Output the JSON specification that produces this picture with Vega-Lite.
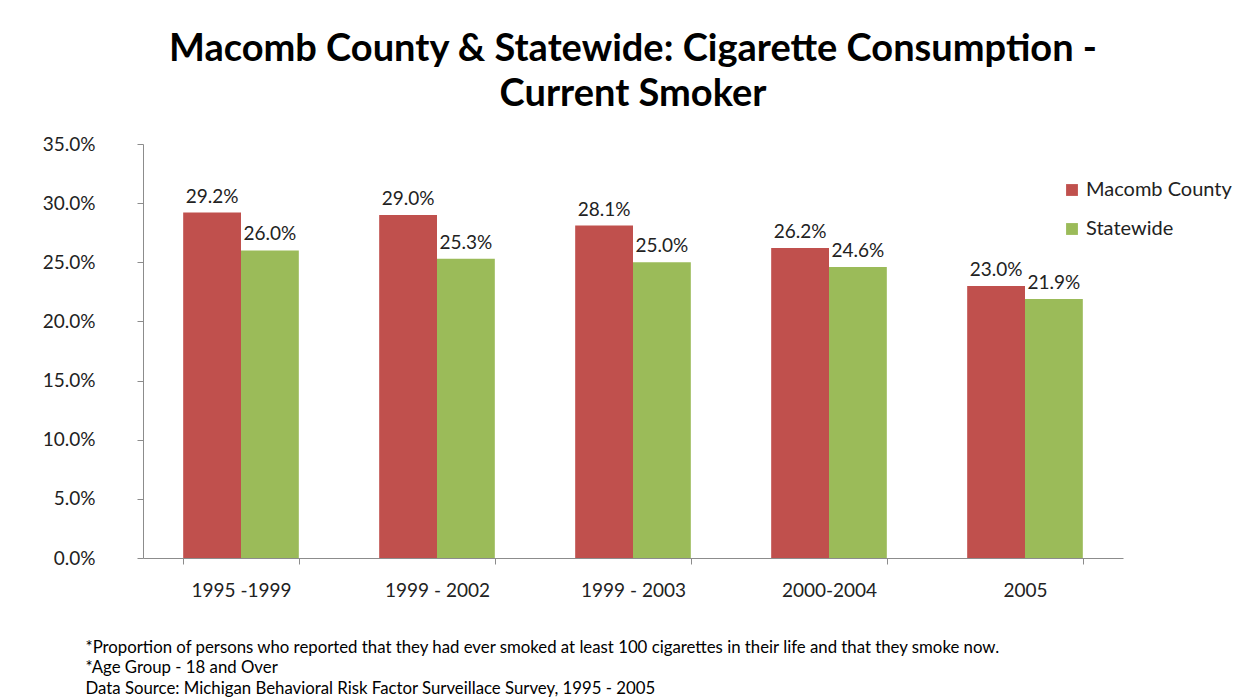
{
  "$schema": "https://vega.github.io/schema/vega-lite/v6.json",
  "autosize": "none",
  "width": 980,
  "height": 414,
  "padding": {"left": 143, "top": 144, "right": 121, "bottom": 142},
  "background": "white",
  "config": {
    "view": {"stroke": null},
    "font": "Lato",
    "axis": {"labelFont": "Lato", "titleFont": "Lato", "domainColor": "#8c8c8c", "tickColor": "#8c8c8c", "grid": false}
  },
  "title": {
    "text": ["Macomb County & Statewide: Cigarette Consumption -", "Current Smoker"],
    "font": "Lato",
    "fontSize": 38,
    "fontWeight": "bold",
    "color": "#000000",
    "anchor": "middle",
    "frame": "group",
    "lineHeight": 45,
    "offset": 21
  },
  "data": {
    "values": [
      {"period": "1995 -1999", "series": "Macomb County", "value": 0.292},
      {"period": "1995 -1999", "series": "Statewide", "value": 0.260},
      {"period": "1999 - 2002", "series": "Macomb County", "value": 0.290},
      {"period": "1999 - 2002", "series": "Statewide", "value": 0.253},
      {"period": "1999 - 2003", "series": "Macomb County", "value": 0.281},
      {"period": "1999 - 2003", "series": "Statewide", "value": 0.250},
      {"period": "2000-2004", "series": "Macomb County", "value": 0.262},
      {"period": "2000-2004", "series": "Statewide", "value": 0.246},
      {"period": "2005", "series": "Macomb County", "value": 0.230},
      {"period": "2005", "series": "Statewide", "value": 0.219}
    ]
  },
  "encoding": {
    "x": {
      "field": "period",
      "type": "nominal",
      "sort": null,
      "scale": {"paddingInner": 0.41, "paddingOuter": 0.205},
      "axis": {
        "labelAngle": 0,
        "labelFontSize": 19,
        "labelColor": "#222222",
        "labelPadding": 17,
        "tickSize": 6,
        "tickBand": "extent",
        "title": [
          "*Proportion of persons who reported that they had ever smoked at least 100  cigarettes in their life and that they smoke now.",
          "*Age Group - 18 and Over",
          "Data Source: Michigan Behavioral Risk Factor Surveillace Survey, 1995 - 2005"
        ],
        "titleFontSize": 16.8,
        "titleFontWeight": "normal",
        "titleColor": "#000000",
        "titleAlign": "left",
        "titleBaseline": "top",
        "titleX": -58,
        "titleY": 81,
        "titleLineHeight": 20.5
      }
    },
    "xOffset": {"field": "series", "type": "nominal"},
    "y": {
      "field": "value",
      "type": "quantitative",
      "scale": {"domain": [0, 0.35], "nice": false},
      "axis": {
        "values": [0, 0.05, 0.1, 0.15, 0.2, 0.25, 0.3, 0.35],
        "format": ".1%",
        "labelFontSize": 19,
        "labelColor": "#222222",
        "labelPadding": 42,
        "tickSize": 6,
        "title": null
      }
    }
  },
  "layer": [
    {
      "mark": {"type": "bar"},
      "encoding": {
        "color": {
          "field": "series",
          "type": "nominal",
          "scale": {"domain": ["Macomb County", "Statewide"], "range": ["#C0504D", "#9BBB59"]},
          "legend": {
            "title": null,
            "orient": "none",
            "legendX": 919,
            "legendY": 36,
            "symbolType": "square",
            "symbolSize": 140,
            "symbolStrokeWidth": 0,
            "labelFontSize": 20,
            "labelColor": "#222222",
            "labelFont": "Lato",
            "rowPadding": 19,
            "symbolOffset": 0
          }
        }
      }
    },
    {
      "mark": {"type": "text", "baseline": "bottom", "dy": -6, "fontSize": 19, "color": "#222222"},
      "encoding": {
        "text": {"field": "value", "type": "quantitative", "format": ".1%"},
        "detail": {"field": "series"}
      }
    }
  ]
}
